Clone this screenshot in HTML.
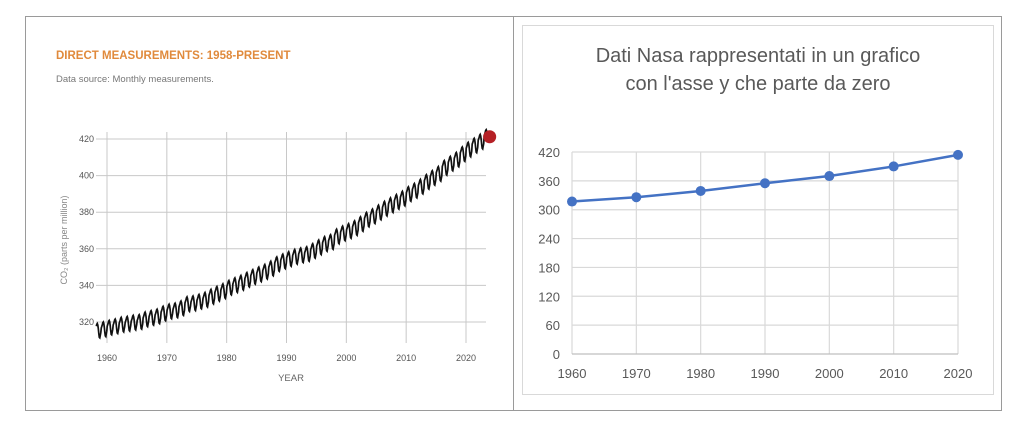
<!DOCTYPE html>
<html><head><meta charset="utf-8"><style>
html,body{margin:0;padding:0;background:#fff;width:1024px;height:426px;overflow:hidden;font-family:"Liberation Sans",sans-serif}
svg{position:absolute;left:0;top:0}
</style></head><body>
<svg width="1024" height="426">
<rect x="25.5" y="16.5" width="976" height="394" fill="none" stroke="#9a9a9a"/>
<line x1="513.5" y1="16" x2="513.5" y2="410" stroke="#9a9a9a"/>
<g id="left">
<text x="56" y="59" font-size="11.5" font-weight="bold" fill="#e08a3c">DIRECT MEASUREMENTS: 1958-PRESENT</text>
<text x="56" y="82" font-size="9.5" fill="#777">Data source: Monthly measurements.</text>
<text transform="translate(67,240) rotate(-90)" text-anchor="middle" font-size="9" fill="#888">CO₂ (parts per million)</text>
<text x="291" y="381" text-anchor="middle" font-size="9.5" fill="#666">YEAR</text>
</g>
<g id="right">
<rect x="522.5" y="25.5" width="471" height="369" fill="none" stroke="#d9d9d9"/>
<text x="758" y="62" text-anchor="middle" font-size="20" fill="#595959">Dati Nasa rappresentati in un grafico</text>
<text x="758" y="90" text-anchor="middle" font-size="20" fill="#595959">con l'asse y che parte da zero</text>
</g>
</svg>
<script>
// Left chart data
const annualYears=[1958,1959,1960,1961,1962,1963,1964,1965,1966,1967,1968,1969,1970,1971,1972,1973,1974,1975,1976,1977,1978,1979,1980,1981,1982,1983,1984,1985,1986,1987,1988,1989,1990,1991,1992,1993,1994,1995,1996,1997,1998,1999,2000,2001,2002,2003,2004,2005,2006,2007,2008,2009,2010,2011,2012,2013,2014,2015,2016,2017,2018,2019,2020,2021,2022,2023];
const annualMeans=[315.2,316.0,316.9,317.6,318.5,319.0,319.6,320.0,321.4,322.2,323.0,324.6,325.7,326.3,327.5,329.7,330.2,331.1,332.1,333.8,335.4,336.8,338.7,340.1,341.4,343.0,344.6,346.0,347.4,349.2,351.6,353.1,354.4,355.6,356.4,357.1,358.8,360.8,362.6,363.7,366.7,368.4,369.7,371.3,373.5,375.9,377.7,379.8,381.9,383.8,385.6,387.4,389.9,391.7,393.9,396.5,398.7,400.9,404.2,406.5,408.7,411.7,414.2,416.4,418.5,421.1];
const seasonalOffsets=[0.8,1.6,2.5,3.6,4.0,3.2,1.2,-1.5,-3.6,-3.9,-2.4,-1.0];
const leftYTicks=[320,340,360,380,400,420];
const leftXTicks=[1960,1970,1980,1990,2000,2010,2020];
// Right chart data
const rightYears=[1960,1970,1980,1990,2000,2010,2020];
const rightValues=[317,326,339,355,370,390,414];
const rightYTicks=[0,60,120,180,240,300,360,420];

const NS='http://www.w3.org/2000/svg';
function mk(tag,attrs,parent){const e=document.createElementNS(NS,tag);for(const k in attrs)e.setAttribute(k,attrs[k]);parent.appendChild(e);return e;}
const L=document.getElementById('left'),R=document.getElementById('right');

const lx=y=>107+(y-1960)*(466-107)/60;
const ly=v=>322-(v-320)*(322-139)/100;
leftYTicks.forEach(t=>{
 const g=mk('line',{x1:96,x2:486,y1:ly(t),y2:ly(t),stroke:'#c8c8c8','stroke-width':1},L);
 
 
 const tx=mk('text',{x:94,y:ly(t)+3,'text-anchor':'end','font-size':9,fill:'#555'},L);tx.textContent=t;
 
 
});
leftXTicks.forEach(t=>{
 const g=mk('line',{x1:lx(t),x2:lx(t),y1:132,y2:343,stroke:'#c8c8c8','stroke-width':1},L);
 
 
 const tx=mk('text',{x:lx(t),y:361,'text-anchor':'middle','font-size':9,fill:'#555'},L);tx.textContent=t;
 
 
});
let pts=[];let last=null;
annualYears.forEach((yr,i)=>{
 for(let m=0;m<12;m++){
  if(yr===1958&&m<2)continue;
  if(yr===2023&&m>7)continue;
  const t=yr+(m+0.5)/12;const v=annualMeans[i]+seasonalOffsets[m];
  last=[lx(t),ly(v)];pts.push(last[0].toFixed(1)+','+last[1].toFixed(1));
 }
});
const co2=mk('polyline',{points:pts.join(' '),fill:'none',stroke:'#111','stroke-width':1.7,'stroke-linejoin':'miter'},L);


const dot=mk('circle',{cx:last[0]+2,cy:last[1]-3,r:6.5,fill:'#b52025'},L);



const rx=y=>572+(y-1960)*(958-572)/60;
const ry=v=>354-v*(354-152)/420;
rightYTicks.forEach(t=>{
 if(t>0){const g=mk('line',{x1:572,x2:958,y1:ry(t),y2:ry(t),stroke:'#d9d9d9','stroke-width':1.2},R);
 
 }
 const tx=mk('text',{x:560,y:ry(t)+5,'text-anchor':'end','font-size':13,fill:'#595959'},R);tx.textContent=t;
 
 
});
rightYears.forEach(t=>{
 const g=mk('line',{x1:rx(t),x2:rx(t),y1:152,y2:354,stroke:'#d9d9d9','stroke-width':1.2},R);
 
 
 const tx=mk('text',{x:rx(t),y:378,'text-anchor':'middle','font-size':13,fill:'#595959'},R);tx.textContent=t;
 
 
});
const ax=mk('line',{x1:572,x2:958,y1:354,y2:354,stroke:'#bfbfbf','stroke-width':1.2},R);


const rl=mk('polyline',{points:rightYears.map((y,i)=>rx(y)+','+ry(rightValues[i])).join(' '),fill:'none',stroke:'#4472c4','stroke-width':2.5},R);


rightYears.forEach((y,i)=>{
 const c=mk('circle',{cx:rx(y),cy:ry(rightValues[i]),r:5,fill:'#4472c4'},R);
 
 
});
</script>
</body></html>
